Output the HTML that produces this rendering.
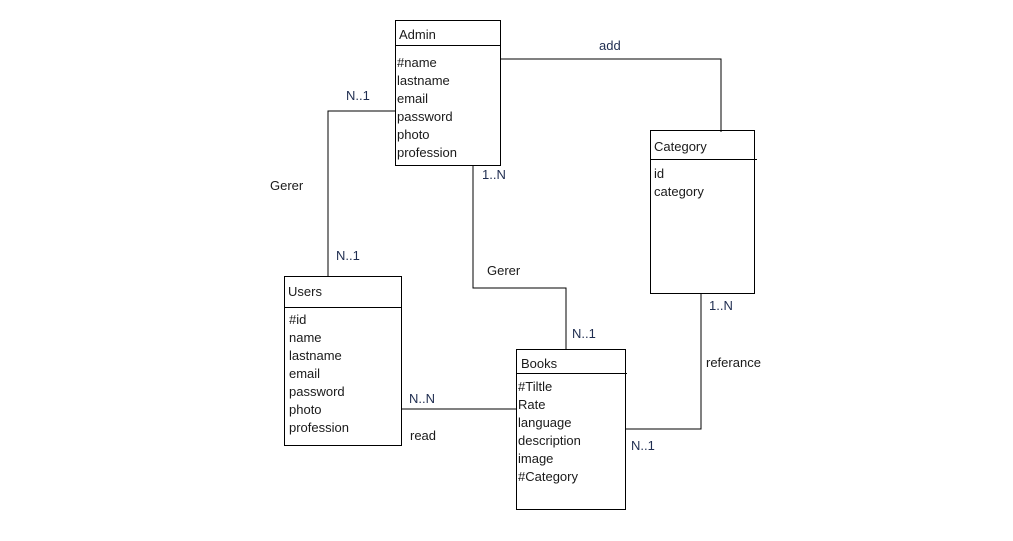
<!DOCTYPE html>
<html><head><meta charset="utf-8"><style>
body{margin:0;width:1013px;height:541px;background:#fff;position:relative;overflow:hidden;font-family:"Liberation Sans",sans-serif;font-size:13px;color:#1a1a1a}
.t{position:absolute;line-height:16px;white-space:nowrap;margin-top:1px}
.box{position:absolute;border:1px solid #000;box-sizing:border-box}
.hl{position:absolute;height:1px;background:#000}
.attrs{position:absolute;line-height:18px;margin-top:1px}
.c{color:#1f2d50}
</style></head><body>
<svg width="1013" height="541" style="position:absolute;left:0;top:0">
<g stroke="#000" stroke-width="1" fill="none" shape-rendering="crispEdges">
<polyline points="500,59 721,59 721,132"/>
<polyline points="395,111 328,111 328,277"/>
<polyline points="473,165 473,288 566,288 566,350"/>
<polyline points="401,409 516,409"/>
<polyline points="625,429 701,429 701,293"/>
</g></svg>

<div class="box" style="left:395px;top:20px;width:106px;height:146px"></div>
<div class="hl" style="left:395px;top:45px;width:106px"></div>
<div class="t" style="left:399px;top:26px">Admin</div>
<div class="attrs" style="left:397px;top:53px">#name<br>lastname<br>email<br>password<br>photo<br>profession</div>

<div class="box" style="left:650px;top:130px;width:105px;height:164px"></div>
<div class="hl" style="left:650px;top:159px;width:107px"></div>
<div class="t" style="left:654px;top:138px">Category</div>
<div class="attrs" style="left:654px;top:164px">id<br>category</div>

<div class="box" style="left:284px;top:276px;width:118px;height:170px"></div>
<div class="hl" style="left:284px;top:307px;width:118px"></div>
<div class="t" style="left:288px;top:283px">Users</div>
<div class="attrs" style="left:289px;top:310px">#id<br>name<br>lastname<br>email<br>password<br>photo<br>profession</div>

<div class="box" style="left:516px;top:349px;width:110px;height:161px"></div>
<div class="hl" style="left:516px;top:373px;width:111px"></div>
<div class="t" style="left:521px;top:355px">Books</div>
<div class="attrs" style="left:518px;top:377px">#Tiltle<br>Rate<br>language<br>description<br>image<br>#Category</div>

<div class="t c" style="left:599px;top:37px">add</div>
<div class="t c" style="left:346px;top:87px">N..1</div>
<div class="t" style="left:270px;top:177px">Gerer</div>
<div class="t c" style="left:336px;top:247px">N..1</div>
<div class="t c" style="left:482px;top:166px">1..N</div>
<div class="t" style="left:487px;top:262px">Gerer</div>
<div class="t c" style="left:572px;top:325px">N..1</div>
<div class="t c" style="left:709px;top:297px">1..N</div>
<div class="t" style="left:706px;top:354px">referance</div>
<div class="t c" style="left:409px;top:390px">N..N</div>
<div class="t" style="left:410px;top:427px">read</div>
<div class="t c" style="left:631px;top:437px">N..1</div>
</body></html>
